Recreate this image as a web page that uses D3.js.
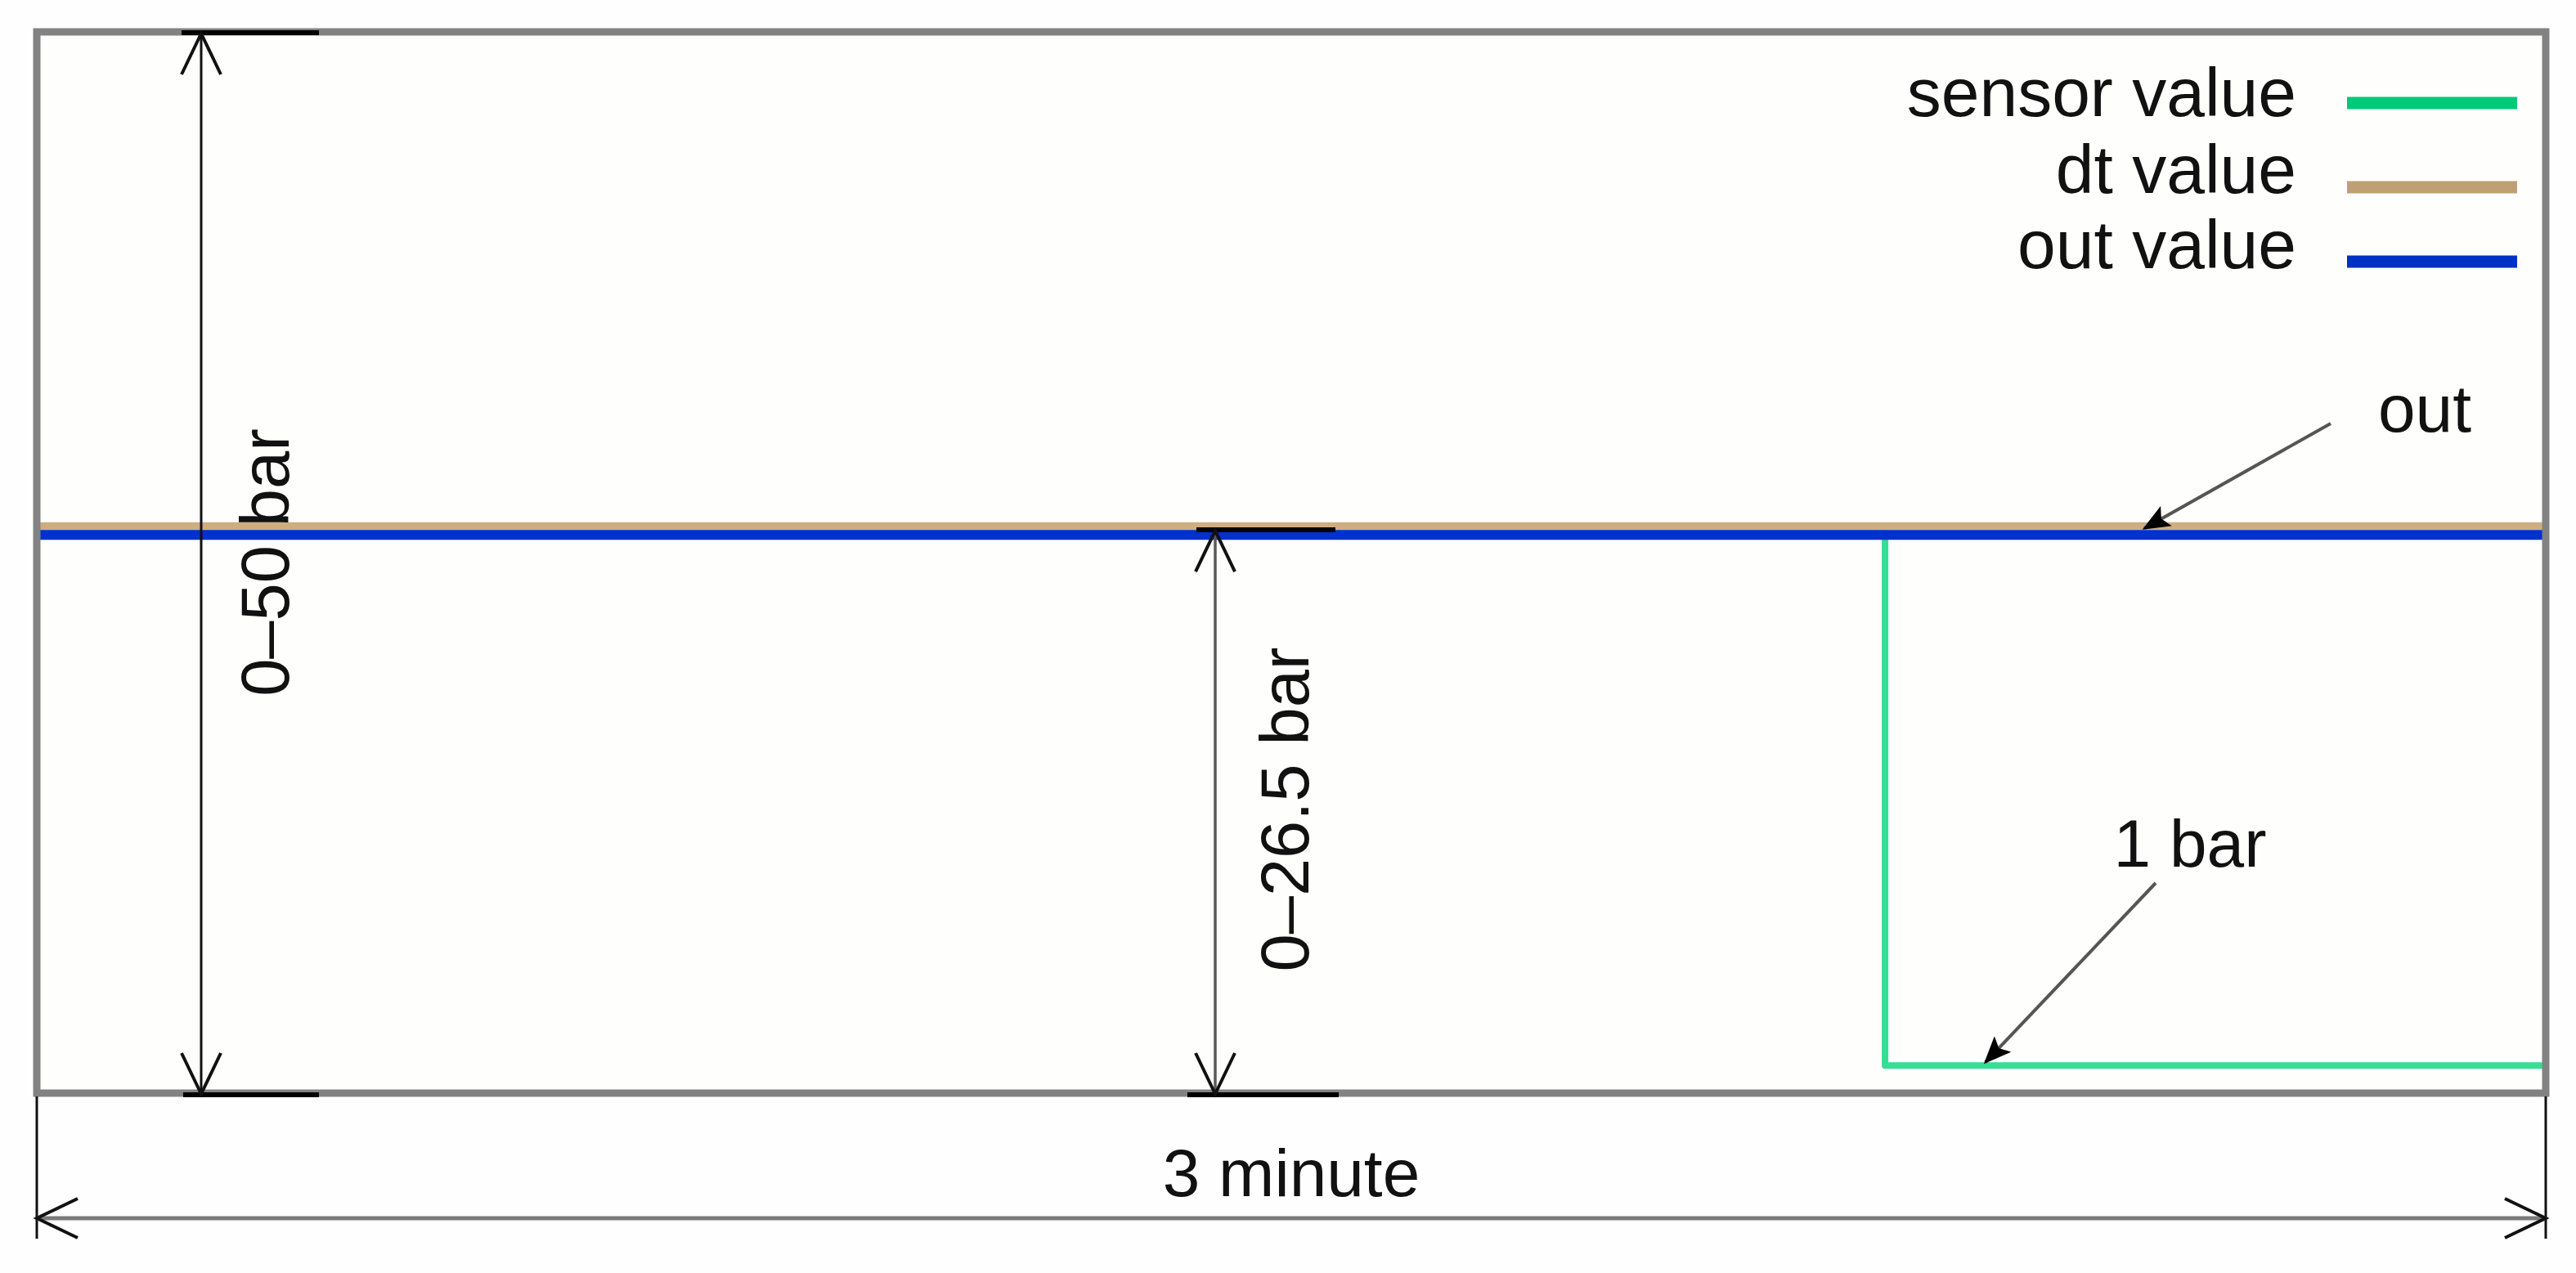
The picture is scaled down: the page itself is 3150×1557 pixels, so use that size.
<!DOCTYPE html>
<html>
<head>
<meta charset="utf-8">
<script src="https://cdn.jsdelivr.net/npm/d3@7"></script>
<style>
  html, body { margin: 0; padding: 0; background: #fefefe; }
  svg text { font-family: "Liberation Sans", Arial, sans-serif; fill: #111; }
</style>
</head>
<body>
<div id="chart"></div>
<script>
// series, time in minutes, pressure in bar
const sensorTime = [0, 2.21, 3];
const sensorBar = [26.5, 1.3, 1.3];
const dtTime = [0, 3];
const dtBar = [26.7, 26.7];
const outTime = [0, 3];
const outBar = [26.3, 26.3];

const legendLabels = ["sensor value", "dt value", "out value"];
const legendColors = ["#00c97a", "#bf9f74", "#0030c4"];
const lineColors = ["#34de94", "#d0ad80", "#0030d0"];

const W = 3150, H = 1557;
const frame = {left: 45, top: 39, right: 3113, bottom: 1337};

var svg = d3.select("#chart").append("svg")
  .attr("width", W)
  .attr("height", H);

var x = d3.scaleLinear().domain([0, 3]).range([frame.left, frame.right]);
var y = d3.scaleLinear().domain([0, 50]).range([frame.bottom, frame.top]);

svg.append("rect")
  .attr("x", frame.left).attr("y", frame.top)
  .attr("width", frame.right - frame.left)
  .attr("height", frame.bottom - frame.top)
  .attr("fill", "#fefefd");

//Data lines
function series (t, v) {
  return t.map((d, i) => ({t: d, v: v[i]}));
}

let stepLine = d3.line().x(d => x(d.t)).y(d => y(d.v)).curve(d3.curveStepAfter);
let flatLine = d3.line().x(d => x(d.t)).y(d => y(d.v));

svg.append("path")
  .datum(series(sensorTime, sensorBar))
  .attr("d", stepLine)
  .attr("fill", "none")
  .attr("stroke", lineColors[0])
  .attr("stroke-width", 8)
  .attr("stroke-linejoin", "round");

svg.append("path")
  .datum(series(dtTime, dtBar))
  .attr("d", flatLine)
  .attr("fill", "none")
  .attr("stroke", lineColors[1])
  .attr("stroke-width", 10);

svg.append("path")
  .datum(series(outTime, outBar))
  .attr("d", flatLine)
  .attr("fill", "none")
  .attr("stroke", lineColors[2])
  .attr("stroke-width", 12);

//Frame on top
svg.append("rect")
  .attr("x", frame.left).attr("y", frame.top)
  .attr("width", frame.right - frame.left)
  .attr("height", frame.bottom - frame.top)
  .attr("fill", "none")
  .attr("stroke", "#828282")
  .attr("stroke-width", 9);

//Open-headed arrow end
function openHead (g, tx, ty, fx, fy, len, half, color) {
  let a = Math.atan2(ty - fy, tx - fx);
  let bx = tx - len * Math.cos(a), by = ty - len * Math.sin(a);
  let px = -Math.sin(a) * half, py = Math.cos(a) * half;
  g.append("path")
    .attr("d", "M" + (bx + px) + "," + (by + py) + "L" + tx + "," + ty + "L" + (bx - px) + "," + (by - py))
    .attr("fill", "none")
    .attr("stroke", color)
    .attr("stroke-width", 4);
}

function dimArrow (x1, y1, x2, y2, lineColor, width) {
  let g = svg.append("g");
  g.append("line")
    .attr("x1", x1).attr("y1", y1).attr("x2", x2).attr("y2", y2)
    .attr("stroke", lineColor)
    .attr("stroke-width", width);
  openHead(g, x1, y1, x2, y2, 50, 24, "#111");
  openHead(g, x2, y2, x1, y1, 50, 24, "#111");
}

function tick (x1, x2, yy) {
  svg.append("line")
    .attr("x1", x1).attr("x2", x2).attr("y1", yy).attr("y2", yy)
    .attr("stroke", "#000")
    .attr("stroke-width", 6);
}

//0-50 bar dimension
const leftDimX = 246;
tick(222, 390, y(50) + 1);
tick(224, 390, y(0) + 2);
dimArrow(leftDimX, y(50) + 2, leftDimX, y(0) + 1, "#111", 3);
svg.append("text")
  .attr("transform", "translate(353," + (y(0) + y(50)) / 2 + ") rotate(-90)")
  .attr("text-anchor", "middle")
  .attr("font-size", 83)
  .text("0\u201350 bar");

//0-26.5 bar dimension
const midDimX = 1486;
tick(1463, 1633, y(26.5) - 1);
tick(1452, 1637, y(0) + 2);
dimArrow(midDimX, y(26.5), midDimX, y(0) + 1, "#5a5a5a", 3.5);
svg.append("text")
  .attr("transform", "translate(1600," + 990 + ") rotate(-90)")
  .attr("text-anchor", "middle")
  .attr("font-size", 83)
  .text("0\u201326.5 bar");

//3 minute dimension
const dimY = 1490;
svg.append("line").attr("x1", x(0)).attr("x2", x(0)).attr("y1", frame.bottom + 4).attr("y2", 1515)
  .attr("stroke", "#111").attr("stroke-width", 3);
svg.append("line").attr("x1", x(3)).attr("x2", x(3)).attr("y1", frame.bottom + 4).attr("y2", 1515)
  .attr("stroke", "#111").attr("stroke-width", 3);
dimArrow(x(0), dimY, x(3), dimY, "#7a7a7a", 5);
svg.append("text")
  .attr("x", (x(0) + x(3)) / 2)
  .attr("y", 1463)
  .attr("text-anchor", "middle")
  .attr("font-size", 82)
  .text("3 minute");

//Callouts with filled heads
svg.append("defs").append("marker")
  .attr("id", "solid")
  .attr("viewBox", "0 -10 24 20")
  .attr("refX", 22)
  .attr("refY", 0)
  .attr("markerUnits", "userSpaceOnUse")
  .attr("markerWidth", 34)
  .attr("markerHeight", 28)
  .attr("orient", "auto")
  .append("path")
  .attr("d", "M0,-10L24,0L0,10L5,0Z")
  .attr("fill", "#000");

function callout (label, lx, ly, sx, sy, tx, ty) {
  svg.append("line")
    .attr("x1", sx).attr("y1", sy).attr("x2", tx).attr("y2", ty)
    .attr("stroke", "#555")
    .attr("stroke-width", 4)
    .attr("marker-end", "url(#solid)");
  svg.append("text")
    .attr("x", lx).attr("y", ly)
    .attr("text-anchor", "middle")
    .attr("font-size", 82)
    .text(label);
}

callout("out", 2965, 528, 2850, 518, x(2.52), y(outBar[0]) - 8);
callout("1 bar", 2678, 1060, 2636, 1080, x(2.33), y(sensorBar[1]) - 4);

//Legend
let legend = svg.append("g").selectAll("g")
  .data(legendLabels)
  .enter().append("g");

const legendBase = [142, 236, 328];
const legendSwatchY = [126, 229, 320];

legend.append("text")
  .attr("x", 2808)
  .attr("y", (d, i) => legendBase[i])
  .attr("text-anchor", "end")
  .attr("font-size", 84)
  .text(d => d);

legend.append("line")
  .attr("x1", 2870).attr("x2", 3078)
  .attr("y1", (d, i) => legendSwatchY[i])
  .attr("y2", (d, i) => legendSwatchY[i])
  .attr("stroke", (d, i) => legendColors[i])
  .attr("stroke-width", 15);
</script>
</body>
</html>
